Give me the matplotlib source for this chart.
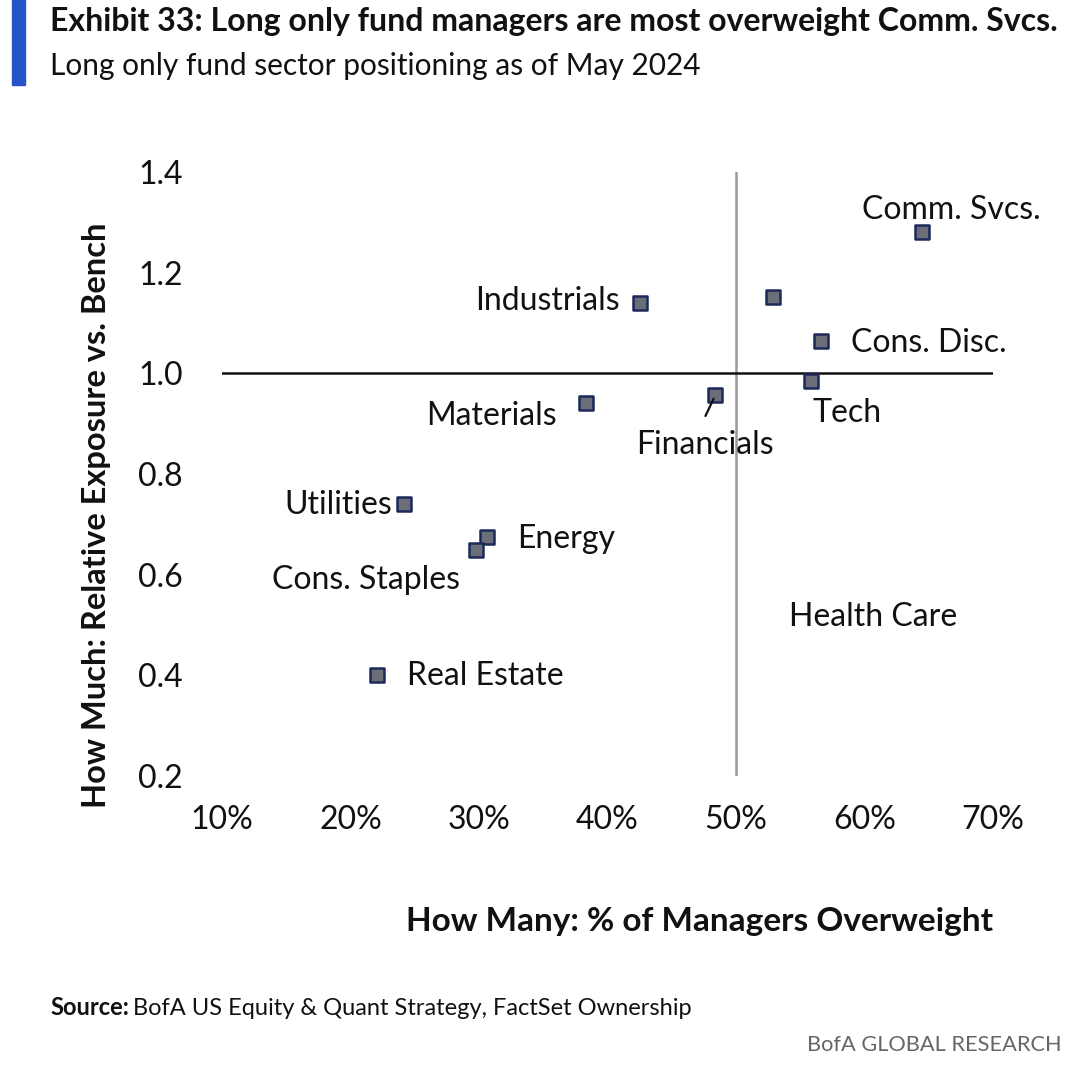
import matplotlib.pyplot as plt
from matplotlib.ticker import FuncFormatter

# sector positioning data
sectors = ['Comm. Svcs.', 'Health Care', 'Cons. Disc.', 'Tech', 'Industrials', 'Financials',
           'Materials', 'Utilities', 'Energy', 'Cons. Staples', 'Real Estate']
pct_overweight = [64.5, 52.9, 56.6, 55.8, 42.5, 48.4, 38.3, 24.2, 30.6, 29.8, 22.1]
rel_exposure = [1.28, 1.152, 1.065, 0.985, 1.14, 0.957, 0.942, 0.741, 0.675, 0.649, 0.40]

# label offsets in pixels (dx, dy, ha)
label_pos = {
    'Comm. Svcs.':   (-60, 22, 'left'),
    'Health Care':   (16, -320, 'left'),
    'Cons. Disc.':   (30, -2, 'left'),
    'Tech':          (2, -32, 'left'),
    'Industrials':   (-20, 2, 'right'),
    'Financials':    (-11, -50, 'center'),
    'Materials':     (-29, -13, 'right'),
    'Utilities':     (-12, -1, 'right'),
    'Energy':        (30, -2, 'left'),
    'Cons. Staples': (-16, -30, 'right'),
    'Real Estate':   (30, -1, 'left'),
}

NARROW = ['Liberation Sans Narrow', 'Lato', 'DejaVu Sans']
INK = '#111111'
NAVY = '#1C2A5A'
FILL = '#6B6E78'
BLUE = '#2554C7'

fig = plt.figure(figsize=(10.8, 10.74), dpi=100)
ax = fig.add_axes([222/1080, 1 - 776/1074, (993-222)/1080, (776-172)/1074])

ax.set_xlim(10, 70)
ax.set_ylim(0.2, 1.4)
for s in ax.spines.values():
    s.set_visible(False)

ax.axvline(50, color='#9A9A9A', lw=1.8, zorder=1)
ax.axhline(1.0, color='#111111', lw=1.8, zorder=1)

ax.scatter(pct_overweight, rel_exposure, marker='s', s=95, color=FILL,
           edgecolors=NAVY, linewidths=1.8, zorder=3)

for name, x, y in zip(sectors, pct_overweight, rel_exposure):
    dx, dy, ha = label_pos[name]
    ax.annotate(name, (x, y), xytext=(dx, dy), textcoords='offset pixels',
                ha=ha, va='center', fontsize=23, color=INK, family=NARROW)

# leader line for Financials
fi = sectors.index('Financials')
ax.annotate('', (pct_overweight[fi], rel_exposure[fi]), xytext=(-10, -21),
            textcoords='offset pixels',
            arrowprops=dict(arrowstyle='-', color=INK, lw=1.6, shrinkA=0, shrinkB=3))

ax.set_xticks([10, 20, 30, 40, 50, 60, 70])
ax.set_yticks([0.2, 0.4, 0.6, 0.8, 1.0, 1.2, 1.4])
ax.xaxis.set_major_formatter(FuncFormatter(lambda v, p: f'{v:.0f}%'))
ax.yaxis.set_major_formatter(FuncFormatter(lambda v, p: f'{v:.1f}'))
ax.tick_params(length=0, labelsize=23, colors=INK)
ax.tick_params(axis='y', pad=28)
ax.tick_params(axis='x', pad=21)
for lbl in ax.get_xticklabels() + ax.get_yticklabels():
    lbl.set_family(NARROW)

# axis titles
fig.text(97/1080, 1 - 515/1074, 'How Much: Relative Exposure vs. Bench', rotation=90,
         ha='center', va='center', fontsize=23.5, fontweight='bold', color=INK, family=NARROW)
fig.text(993/1080, 1 - 922/1074, 'How Many: % of Managers Overweight',
         ha='right', va='center', fontsize=24, fontweight='bold', color=INK, family=NARROW)

# header
fig.patches.append(plt.Rectangle((12/1080, 1 - 85/1074), 13/1080, 85/1074,
                                 transform=fig.transFigure, color=BLUE, zorder=5))
fig.text(50/1080, 1 - 22/1074, 'Exhibit 33: Long only fund managers are most overweight Comm. Svcs.',
         ha='left', va='center', fontsize=23, fontweight='bold', color=INK, family=NARROW)
fig.text(50/1080, 1 - 66/1074, 'Long only fund sector positioning as of May 2024',
         ha='left', va='center', fontsize=21.5, color=INK, family=NARROW)

# footer
src = fig.text(50/1080, 1 - 1015/1074, 'Source:', ha='left', va='baseline', fontsize=17,
               fontweight='bold', color=INK, family=NARROW)
fig.canvas.draw()
bb = src.get_window_extent()
fig.text(bb.x1/1080 + 4/1080, 1 - 1015/1074, 'BofA US Equity & Quant Strategy, FactSet Ownership',
         ha='left', va='baseline', fontsize=17, color=INK, family=NARROW)
fig.text(1062/1080, 1 - 1045/1074, 'BofA GLOBAL RESEARCH', ha='right', va='center',
         fontsize=15.7, color='#666666', family=NARROW)

fig.savefig('out.png', dpi=100, facecolor='white')
